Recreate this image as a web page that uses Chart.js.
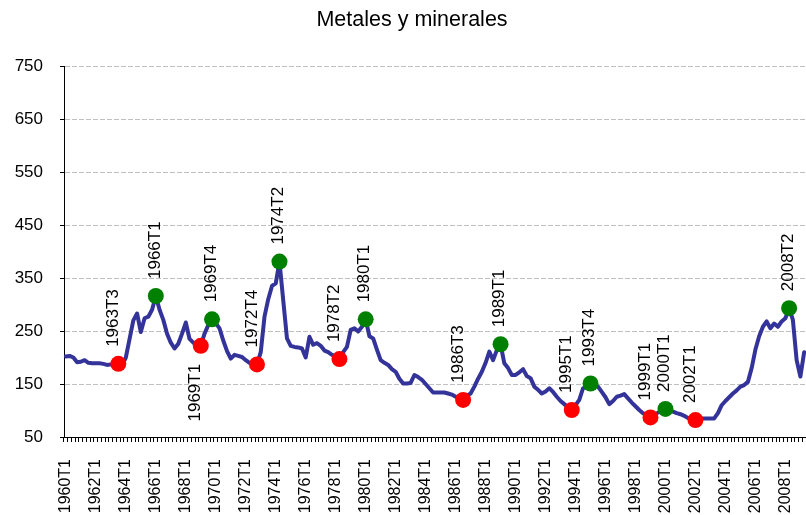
<!DOCTYPE html>
<html>
<head>
<meta charset="utf-8">
<title>Metales y minerales</title>
<script src="https://cdn.jsdelivr.net/npm/chart.js@4.4.0/dist/chart.umd.min.js"></script>
<style>
  html, body { margin: 0; padding: 0; background: #fff; }
  #wrap { width: 806px; height: 515px; }
</style>
</head>
<body>
<div id="wrap"><canvas id="grafico" width="806" height="515"></canvas></div>
<script>
// indice trimestral metales y minerales, 1960T1 .. 2009T2
const primerAnio = 1960;
const indice = [
  202, 203, 200, 191,   // 1960
  192, 195, 190, 189,   // 1961
  189, 189, 188, 186,   // 1962
  187, 186, 188, 186,   // 1963
  200, 235, 270, 283,   // 1964
  248, 274, 277, 290,   // 1965
  316, 290, 271, 245,   // 1966
  228, 217, 226, 245,   // 1967
  266, 235, 228, 224,   // 1968
  222, 245, 261, 272,   // 1969
  265, 255, 232, 212,   // 1970
  198, 205, 203, 201,   // 1971
  195, 190, 189, 187,   // 1972
  210, 277, 310, 335,   // 1973
  340, 381, 308, 236,   // 1974
  222, 220, 219, 217,   // 1975
  200, 239, 224, 227,   // 1976
  222, 213, 210, 205,   // 1977
  201, 197, 210, 220,   // 1978
  252, 255, 249, 258,   // 1979
  272, 240, 236, 215,   // 1980
  195, 190, 186, 178,   // 1981
  173, 160, 151, 151,   // 1982
  152, 167, 163, 158,   // 1983
  150, 142, 134, 134,   // 1984
  134, 134, 132, 130,   // 1985
  126, 123, 120, 128,   // 1986
  132, 145, 160, 173,   // 1987
  190, 211, 195, 214,   // 1988
  225, 189, 180, 167,   // 1989
  167, 172, 178, 165,   // 1990
  161, 145, 139, 132,   // 1991
  136, 142, 135, 126,   // 1992
  118, 112, 106, 101,   // 1993
  110, 120, 142, 145,   // 1994
  151, 148, 145, 135,   // 1995
  125, 112, 118, 126,   // 1996
  128, 131, 123, 115,   // 1997
  108, 101, 95, 90,     // 1998
  87, 92, 96, 100,      // 1999
  103, 100, 98, 95,     // 2000
  93, 90, 86, 83,       // 2001
  82, 85, 85, 85,       // 2002
  85, 85, 95, 110,      // 2003
  118, 125, 132, 138,   // 2004
  145, 148, 154, 180,   // 2005
  215, 240, 258, 268,   // 2006
  255, 264, 258, 268,   // 2007
  274, 293, 271, 195,   // 2008
  164, 210              // 2009
];

// picos (verde) y valles (rojo): trimestre donde cae el punto / texto que muestra
const picosEn     = ['1966T1', '1969T4', '1974T2', '1980T1', '1989T1', '1995T1', '2000T1', '2008T2'];
const picosTexto  = ['1966T1', '1969T4', '1974T2', '1980T1', '1989T1', '1993T4', '2000T1', '2008T2'];
const vallesEn    = ['1963T3', '1969T1', '1972T4', '1978T2', '1986T3', '1993T4', '1999T1', '2002T1'];
const vallesTexto = ['1963T3', '1969T1', '1972T4', '1978T2', '1986T3', '1995T1', '1999T1', '2002T1'];

const yTicks = [50, 150, 250, 350, 450, 550, 650, 750];
const titulo = 'Metales y minerales';

const FUENTE = '"Liberation Sans", Arial, sans-serif';

// etiquetas de categoria: 1960T1, 1960T2, ...
const trimestres = indice.map((_, i) => `${primerAnio + Math.floor(i / 4)}T${(i % 4) + 1}`);

const puntos = lista => lista.map(q => ({ x: q, y: indice[trimestres.indexOf(q)] }));

// titulo y textos verticales sobre los puntos
const etiquetasPuntos = {
  id: 'etiquetasPuntos',
  afterDatasetsDraw(chart) {
    const ctx = chart.ctx;
    ctx.save();
    ctx.fillStyle = '#000';
    ctx.textBaseline = 'middle';

    ctx.font = '21.5px ' + FUENTE;
    ctx.textAlign = 'center';
    ctx.fillText(titulo, 412, 20);

    ctx.font = '17px ' + FUENTE;
    chart.data.datasets.forEach((ds, di) => {
      if (!ds.textos) return;
      const meta = chart.getDatasetMeta(di);
      meta.data.forEach((pt, i) => {
        const txt = ds.textos[i];
        const abajo = ds.abajo.includes(txt);
        ctx.save();
        ctx.translate(pt.x + ds.dx, pt.y + (abajo ? 18 : -17));
        ctx.rotate(-Math.PI / 2);
        ctx.textAlign = abajo ? 'right' : 'left';
        ctx.fillText(txt, 0, 0);
        ctx.restore();
      });
    });
    ctx.restore();
  }
};

new Chart(document.getElementById('grafico').getContext('2d'), {
  type: 'line',
  data: {
    labels: trimestres,
    datasets: [
      {
        label: 'picos',
        data: puntos(picosEn),
        textos: picosTexto,
        abajo: [],
        dx: -1,
        showLine: false,
        pointRadius: 8,
        pointBackgroundColor: '#008000',
        pointBorderColor: '#008000',
        pointBorderWidth: 0,
        order: 0
      },
      {
        label: 'valles',
        data: puntos(vallesEn),
        textos: vallesTexto,
        abajo: ['1969T1'],
        dx: -5,
        showLine: false,
        pointRadius: 8,
        pointBackgroundColor: '#ff0000',
        pointBorderColor: '#ff0000',
        pointBorderWidth: 0,
        order: 0
      },
      {
        label: titulo,
        data: indice,
        borderColor: '#333399',
        borderWidth: 4,
        borderJoinStyle: 'round',
        borderCapStyle: 'round',
        pointRadius: 0,
        tension: 0,
        fill: false,
        order: 1
      }
    ]
  },
  options: {
    responsive: false,
    animation: false,
    devicePixelRatio: 1,
    layout: { autoPadding: false, padding: { left: 0, right: 0, top: 66, bottom: 0 } },
    plugins: {
      legend: { display: false },
      tooltip: { enabled: false },
      title: { display: false }
    },
    scales: {
      x: {
        type: 'category',
        offset: true,
        grid: {
          display: true,
          drawOnChartArea: false,
          drawTicks: true,
          tickLength: 5,
          tickColor: '#000',
          offset: true
        },
        border: { color: '#000', width: 1 },
        ticks: {
          autoSkip: false,
          minRotation: 90,
          maxRotation: 90,
          padding: 17,
          color: '#000',
          font: { family: FUENTE, size: 16 },
          callback: (v, i) => (i % 8 === 0 ? trimestres[i] : '')
        },
        afterFit: s => { s.height = 78; s.paddingLeft = 0; s.paddingRight = 0; }
      },
      y: {
        min: 50,
        max: 750,
        afterBuildTicks: s => { s.ticks = yTicks.map(v => ({ value: v })); },
        grid: {
          color: '#c0c0c0',
          lineWidth: 1,
          tickColor: '#000',
          tickLength: 4
        },
        border: { color: '#000', width: 1, dash: [5, 2] },
        ticks: {
          padding: 17,
          color: '#000',
          font: { family: FUENTE, size: 17 }
        },
        afterFit: s => { s.width = 64; }
      }
    }
  },
  plugins: [etiquetasPuntos]
});
</script>
</body>
</html>
